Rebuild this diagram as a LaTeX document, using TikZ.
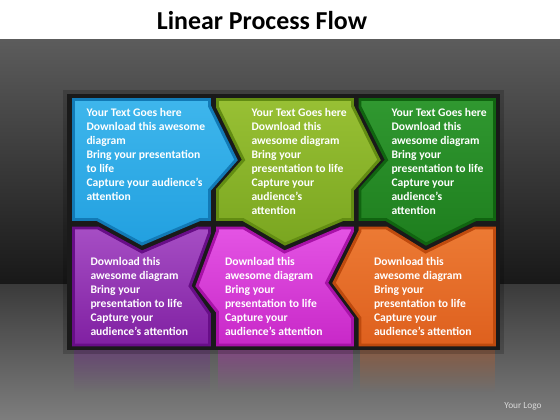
\documentclass[tikz,border=0pt]{standalone}
\usepackage{fontspec}
\setmainfont{Carlito}
\usetikzlibrary{fadings}

\definecolor{bgTop}{RGB}{92,92,92}
\definecolor{bgLow}{RGB}{24,24,24}
\definecolor{floorTop}{RGB}{58,58,58}
\definecolor{floorBot}{RGB}{126,126,126}
\definecolor{blueA}{RGB}{62,182,236}
\definecolor{blueB}{RGB}{34,160,224}
\definecolor{blueL}{RGB}{18,122,182}
\definecolor{limeA}{RGB}{152,192,52}
\definecolor{limeB}{RGB}{122,166,32}
\definecolor{limeL}{RGB}{98,140,18}
\definecolor{leafA}{RGB}{48,152,48}
\definecolor{leafB}{RGB}{30,126,30}
\definecolor{leafL}{RGB}{16,100,16}
\definecolor{violA}{RGB}{166,78,196}
\definecolor{violB}{RGB}{128,32,162}
\definecolor{violL}{RGB}{104,14,136}
\definecolor{pinkA}{RGB}{228,84,228}
\definecolor{pinkB}{RGB}{200,40,200}
\definecolor{pinkL}{RGB}{168,18,168}
\definecolor{orngA}{RGB}{236,122,52}
\definecolor{orngB}{RGB}{222,96,30}
\definecolor{orngL}{RGB}{190,74,14}

\tikzset{every picture/.style={line width=0.75pt}}

\begin{document}
\begin{tikzpicture}[x=0.75pt,y=0.75pt,yscale=-1,xscale=1,
  piece/.style={line width=2.2pt,line join=miter},
  boxtxt/.style={anchor=north west,inner sep=0.75pt,align=left,text=white,
    font=\fontsize{8.7}{10.5}\selectfont\bfseries}]
\useasboundingbox (0,0) rectangle (560,420);

%Background
\fill [white] (0,0) rectangle (560,40);
\shade [top color=bgTop,bottom color=bgLow] (0,40) rectangle (560,284);
\shade [top color=floorTop,bottom color=floorBot] (0,284) rectangle (560,420);

%Reflections
\fill [violB,path fading=south,fill opacity=0.35] (73.5,348) rectangle (209.5,392);
\fill [pinkB,path fading=south,fill opacity=0.35] (217.5,348) rectangle (352.5,392);
\fill [orngB,path fading=south,fill opacity=0.35] (360,348) rectangle (494.5,392);

%Shadow
\fill [black,opacity=0.18] (63,90) rectangle (504,354);
\fill [fill={rgb, 255:red, 26; green, 26; blue, 26 }] (67,94) rectangle (500,350);

%Shape: Polygon (blue)
\draw [piece,draw=blueL,top color=blueA,bottom color=blueB] (73.5,99.5) -- (209.5,99.5) -- (209.5,106) -- (236,160) -- (209.5,190) -- (209.5,219.5) -- (200,219.5) -- (142,244) -- (97,219.5) -- (73.5,219.5) -- cycle ;
%Shape: Polygon (lime)
\draw [piece,draw=limeL,top color=limeA,bottom color=limeB] (217.5,99.5) -- (352.5,99.5) -- (352.5,106) -- (379,160) -- (352.5,190) -- (352.5,219.5) -- (343,219.5) -- (285,244) -- (243,219.5) -- (217.5,219.5) -- (217.5,189.5) -- (243.5,160) -- (217.5,107) -- cycle ;
%Shape: Polygon (green)
\draw [piece,draw=leafL,top color=leafA,bottom color=leafB] (360,99.5) -- (494.5,99.5) -- (494.5,219.5) -- (476,219.5) -- (426,244) -- (386,219.5) -- (360,219.5) -- (360,189.5) -- (386.5,160) -- (360,107) -- cycle ;
%Shape: Polygon (violet)
\draw [piece,draw=violL,top color=violA,bottom color=violB] (73.5,228) -- (98,228) -- (142,252) -- (198,228) -- (209.5,228) -- (209.5,233) -- (190,286) -- (209.5,314) -- (209.5,345) -- (73.5,345) -- cycle ;
%Shape: Polygon (pink)
\draw [piece,draw=pinkL,top color=pinkA,bottom color=pinkB] (217.5,228) -- (243.7,228) -- (284.5,252) -- (341,228) -- (352.5,228) -- (352.5,231) -- (326.5,283) -- (352.5,318) -- (352.5,345) -- (217.5,345) -- (217.5,312) -- (197,286) -- (217.5,231) -- cycle ;
%Shape: Polygon (orange)
\draw [piece,draw=orngL,top color=orngA,bottom color=orngB] (360,228) -- (386.5,228) -- (425.6,252) -- (474.6,228) -- (494.5,228) -- (494.5,345) -- (360,345) -- (360,318) -- (334,283) -- (360,231) -- cycle ;

% Text Node
\draw (262,21) node (title) [inner sep=0.75pt,font=\fontsize{19.4}{21}\selectfont\bfseries] {Linear Process Flow};
% Text Node
\draw (85,106.5) node (blueTxt) [boxtxt] {Your Text Goes here\\Download this awesome\\diagram\\Bring your presentation\\to life\\Capture your audience’s\\attention};
% Text Node
\draw (250,106.5) node (limeTxt) [boxtxt] {Your Text Goes here\\Download this\\awesome diagram\\Bring your\\presentation to life\\Capture your\\audience’s\\attention};
% Text Node
\draw (390,106.5) node (leafTxt) [boxtxt] {Your Text Goes here\\Download this\\awesome diagram\\Bring your\\presentation to life\\Capture your\\audience’s\\attention};
% Text Node
\draw (89,256) node (violTxt) [boxtxt] {Download this\\awesome diagram\\Bring your\\presentation to life\\Capture your\\audience’s attention};
% Text Node
\draw (223.5,256) node (pinkTxt) [boxtxt] {Download this\\awesome diagram\\Bring your\\presentation to life\\Capture your\\audience’s attention};
% Text Node
\draw (372.5,256) node (orngTxt) [boxtxt] {Download this\\awesome diagram\\Bring your\\presentation to life\\Capture your\\audience’s attention};
% Text Node
\draw (523,406) node (logo) [inner sep=0.75pt,text=white!85!black,font=\fontsize{7}{8}\selectfont] {Your Logo};
\end{tikzpicture}
\end{document}
